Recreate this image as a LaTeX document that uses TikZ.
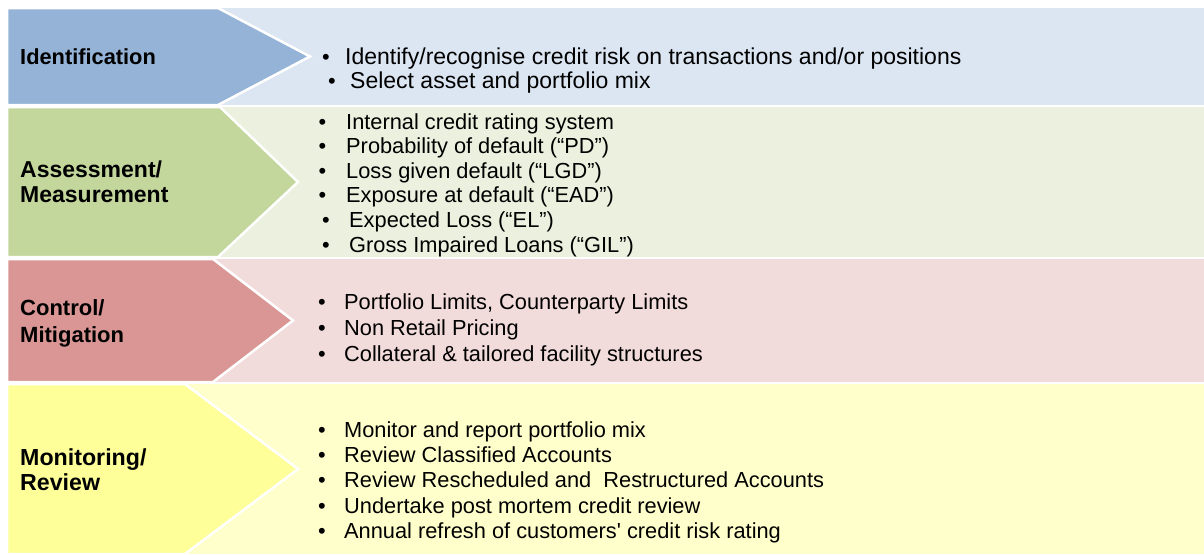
\documentclass[tikz,border=0pt]{standalone}
\usepackage{fontspec}
\setmainfont{Liberation Sans}
\definecolor{bDark}{HTML}{95B3D7}
\definecolor{bLight}{HTML}{DCE6F2}
\definecolor{gDark}{HTML}{C3D69B}
\definecolor{gLight}{HTML}{EBF1DE}
\definecolor{rDark}{HTML}{D99694}
\definecolor{rLight}{HTML}{F2DCDB}
\definecolor{yDark}{HTML}{FFFF99}
\definecolor{yLight}{HTML}{FFFFCC}
\tikzset{
  chev/.style={draw=white, line width=2.5pt, line join=miter},
  lbl/.style={anchor=base west, inner sep=0pt, font=\fontsize{#1}{25}\selectfont\bfseries},
  lbl/.default=21.8,
  itm/.style={anchor=base west, inner sep=0pt, font=\fontsize{#1}{25}\selectfont},
  itm/.default=21.8,
  bul/.style={anchor=base, inner sep=0pt, font=\fontsize{21.8}{25}\selectfont}
}
\begin{document}
\begin{tikzpicture}[x=1pt, y=-1pt]
\useasboundingbox[fill=white] (0,0) rectangle (1204,554);
% bands
\fill[bLight] (150,8) rectangle (1204,105);
\fill[gLight] (150,107) rectangle (1204,257);
\fill[rLight] (150,259) rectangle (1204,382);
\fill[yLight] (150,384) rectangle (1204,554);
% chevrons
\filldraw[chev, fill=bDark] (7,8) -- (218,8) -- (310,56.5) -- (218,105) -- (7,105) -- cycle;
\filldraw[chev, fill=gDark] (7,107) -- (220,107) -- (298,182) -- (218,257) -- (7,257) -- cycle;
\filldraw[chev, fill=rDark] (7,259) -- (213,259) -- (293,320.5) -- (213,382) -- (7,382) -- cycle;
\filldraw[chev, fill=yDark] (7,384) -- (185,384) -- (298,469) -- (185,554) -- (7,554) -- cycle;
% labels
\node[lbl] (l1) at (20,64) {Identification};
\node[lbl=23] (l2a) at (20,177) {Assessment/};
\node[lbl=23] (l2b) at (20,202) {Measurement};
\node[lbl=22] (l3a) at (20,315.5) {Control/};
\node[lbl=22] (l3b) at (20,342) {Mitigation};
\node[lbl=23.2] (l4a) at (20,465) {Monitoring/};
\node[lbl=23.2] (l4b) at (20,490.5) {Review};
% row 1
\node[bul] (b11) at (326,64.5) {•};
\node[itm=23] (t11) at (345,64.5) {Identify/recognise credit risk on transactions and/or positions};
\node[bul] (b12) at (332,88.5) {•};
\node[itm=23] (t12) at (350,88.5) {Select asset and portfolio mix};
% row 2
\node[bul] (b21) at (322.5,129) {•};
\node[itm] (t21) at (346,129) {Internal credit rating system};
\node[bul] (b22) at (322.5,153.6) {•};
\node[itm] (t22) at (346,153.6) {Probability of default (“PD”)};
\node[bul] (b23) at (322.5,178.2) {•};
\node[itm] (t23) at (346,178.2) {Loss given default (“LGD”)};
\node[bul] (b24) at (322.5,202.8) {•};
\node[itm] (t24) at (346,202.8) {Exposure at default (“EAD”)};
\node[bul] (b25) at (326,227.4) {•};
\node[itm] (t25) at (349,227.4) {Expected Loss (“EL”)};
\node[bul] (b26) at (326,252) {•};
\node[itm] (t26) at (349,252) {Gross Impaired Loans (“GIL”)};
% row 3
\node[bul] (b31) at (322,309.5) {•};
\node[itm] (t31) at (344,309.5) {Portfolio Limits, Counterparty Limits};
\node[bul] (b32) at (322,335.5) {•};
\node[itm] (t32) at (344,335.5) {Non Retail Pricing};
\node[bul] (b33) at (322,361.5) {•};
\node[itm] (t33) at (344,361.5) {Collateral \& tailored facility structures};
% row 4
\node[bul] (b41) at (322,437.5) {•};
\node[itm] (t41) at (344,437.5) {Monitor and report portfolio mix};
\node[bul] (b42) at (322,462.5) {•};
\node[itm] (t42) at (344,462.5) {Review Classified Accounts};
\node[bul] (b43) at (322,487.5) {•};
\node[itm] (t43) at (344,487.5) {Review Rescheduled and\ \ Restructured Accounts};
\node[bul] (b44) at (322,513.5) {•};
\node[itm] (t44) at (344,513.5) {Undertake post mortem credit review};
\node[bul] (b45) at (322,538.5) {•};
\node[itm] (t45) at (344,538.5) {Annual refresh of customers\textquotesingle\ credit risk rating};
\end{tikzpicture}
\end{document}
